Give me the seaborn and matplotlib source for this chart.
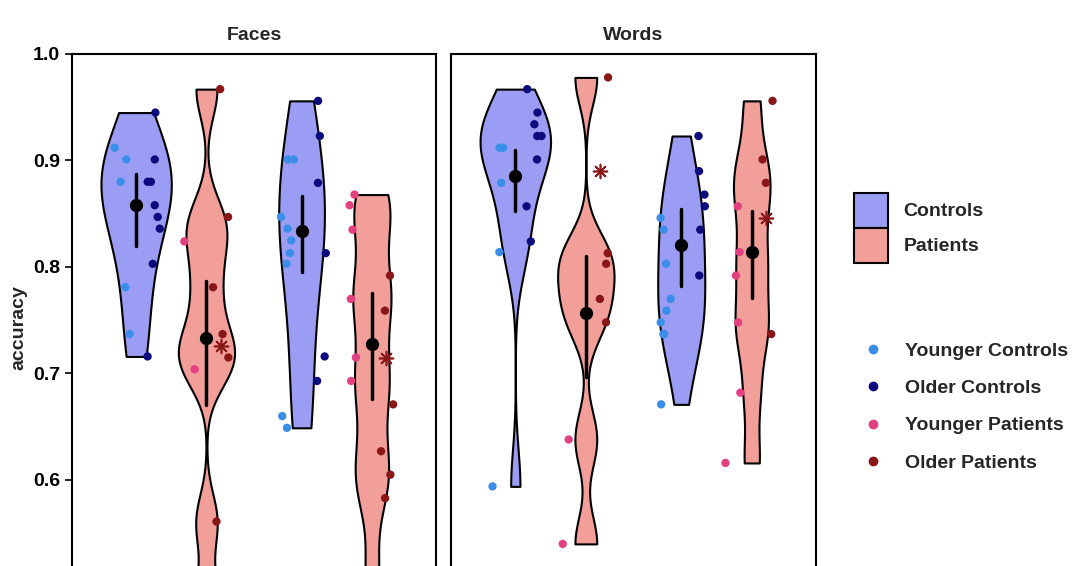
import numpy as np
import pandas as pd
import seaborn as sns
import matplotlib.pyplot as plt
from matplotlib.patches import Patch
from matplotlib.lines import Line2D
from matplotlib.ticker import FormatStrFormatter

# Categories
panels = ["Faces", "Words"]
times = ["Time 1", "Time 2"]
groups = ["Controls", "Patients"]
subgroups = ["Younger Controls", "Older Controls", "Younger Patients", "Older Patients"]

# Accuracy per participant (Faces)
faces_t1_young_ctrl = [0.912, 0.901, 0.880, 0.781, 0.737]
faces_t1_old_ctrl = [0.945, 0.901, 0.880, 0.880, 0.858, 0.847, 0.836, 0.803, 0.716]
faces_t1_young_pat = [0.824, 0.704, 0.490]
faces_t1_old_pat = [0.967, 0.847, 0.781, 0.737, 0.715, 0.561]

faces_t2_young_ctrl = [0.901, 0.901, 0.847, 0.836, 0.825, 0.813, 0.803, 0.660, 0.649]
faces_t2_old_ctrl = [0.956, 0.923, 0.879, 0.813, 0.716, 0.693]
faces_t2_young_pat = [0.868, 0.858, 0.835, 0.770, 0.715, 0.693, 0.511]
faces_t2_old_pat = [0.792, 0.759, 0.671, 0.627, 0.605, 0.583]

# Accuracy per participant (Words)
words_t1_young_ctrl = [0.912, 0.912, 0.879, 0.814, 0.594]
words_t1_old_ctrl = [0.967, 0.945, 0.934, 0.923, 0.923, 0.901, 0.857, 0.824]
words_t1_young_pat = [0.638, 0.540]
words_t1_old_pat = [0.978, 0.813, 0.803, 0.770, 0.748]

words_t2_young_ctrl = [0.846, 0.835, 0.803, 0.770, 0.759, 0.748, 0.737, 0.737, 0.737, 0.671]
words_t2_old_ctrl = [0.923, 0.890, 0.868, 0.857, 0.835, 0.792]
words_t2_young_pat = [0.857, 0.814, 0.792, 0.748, 0.682, 0.616]
words_t2_old_pat = [0.956, 0.901, 0.879, 0.737]

# Group mean and interval: Controls T1, Patients T1, Controls T2, Patients T2
faces_mean = [0.858, 0.733, 0.834, 0.728]
faces_lo = [0.820, 0.670, 0.795, 0.676]
faces_hi = [0.887, 0.787, 0.867, 0.776]
words_mean = [0.885, 0.757, 0.821, 0.814]
words_lo = [0.853, 0.697, 0.782, 0.771]
words_hi = [0.910, 0.810, 0.854, 0.853]

# Single highlighted patient (asterisk), T1 and T2
faces_star = [0.726, 0.715]
words_star = [0.890, 0.846]

fill_colors = {"Controls": "#9b9cf3", "Patients": "#f29e99"}
point_colors = {"Younger Controls": "#3a8ee8", "Older Controls": "#0b0b7e",
                "Younger Patients": "#e2407f", "Older Patients": "#8a1717"}


def nrd0(kde):
    # R's default bandwidth rule, returned as a factor of the sample sd
    x = kde.dataset[0]
    sd = np.std(x, ddof=1)
    q75, q25 = np.percentile(x, [75, 25])
    bw = 0.9 * min(sd, (q75 - q25) / 1.34) * len(x) ** (-0.2)
    return bw / sd


# Long tables
raw = {
    ("Faces", "Time 1"): [faces_t1_young_ctrl, faces_t1_old_ctrl, faces_t1_young_pat, faces_t1_old_pat],
    ("Faces", "Time 2"): [faces_t2_young_ctrl, faces_t2_old_ctrl, faces_t2_young_pat, faces_t2_old_pat],
    ("Words", "Time 1"): [words_t1_young_ctrl, words_t1_old_ctrl, words_t1_young_pat, words_t1_old_pat],
    ("Words", "Time 2"): [words_t2_young_ctrl, words_t2_old_ctrl, words_t2_young_pat, words_t2_old_pat],
}
rows = []
for (panel, time), lists in raw.items():
    for sub, vals in zip(subgroups, lists):
        for v in vals:
            rows.append({"panel": panel, "time": time, "subgroup": sub,
                         "group": sub.split()[1], "accuracy": v})
df = pd.DataFrame(rows)

cells = [(t, g) for t in times for g in groups]
summ_rows = []
for panel, m, lo, hi in [("Faces", faces_mean, faces_lo, faces_hi),
                         ("Words", words_mean, words_lo, words_hi)]:
    for i, (time, group) in enumerate(cells):
        for v in (lo[i], m[i], hi[i]):
            summ_rows.append({"panel": panel, "time": time, "group": group, "accuracy": v})
summ = pd.DataFrame(summ_rows)

star_rows = []
for panel, vals in [("Faces", faces_star), ("Words", words_star)]:
    for time, v in zip(times, vals):
        star_rows.append({"panel": panel, "time": time, "subgroup": "Older Patients", "accuracy": v})
stars = pd.DataFrame(star_rows)

# Plot
sns.set_style("white")
plt.rcParams["font.family"] = ["Liberation Sans", "DejaVu Sans"]
plt.rcParams["font.weight"] = "bold"
plt.rcParams["axes.labelweight"] = "bold"
np.random.seed(7)

fig = plt.figure(figsize=(10.8, 5.66), dpi=100)
ax_faces = fig.add_axes([0.0667, -0.0362, 0.337, 0.9408])
ax_words = fig.add_axes([0.4176, -0.0362, 0.338, 0.9408])

# violin settings per group: bandwidth adjust, gap
violin_opts = {"Controls": (1.3, 0.0), "Patients": (0.5, 0.2)}

for ax, panel in zip([ax_faces, ax_words], panels):
    d = df[df["panel"] == panel]
    for g in groups:
        adj, gap = violin_opts[g]
        sns.violinplot(data=d[d["group"] == g], x="time", y="accuracy", hue="group",
                       order=times, hue_order=groups, palette=fill_colors, saturation=1, cut=0,
                       density_norm="area", common_norm=True, bw_method=nrd0, bw_adjust=adj,
                       inner=None, width=0.85, gap=gap, dodge=True, linewidth=1.5,
                       linecolor="black", legend=False, ax=ax)
    sns.stripplot(data=d, x="time", y="accuracy", hue="subgroup", order=times, hue_order=subgroups,
                  palette=point_colors, dodge=True, jitter=0.2, size=6, linewidth=0,
                  legend=False, ax=ax)
    sns.stripplot(data=stars[stars["panel"] == panel], x="time", y="accuracy", hue="subgroup",
                  order=times, hue_order=subgroups, palette=point_colors, dodge=True, jitter=False,
                  marker=(8, 2, 0), size=10, linewidth=1.2, edgecolor=point_colors["Older Patients"],
                  legend=False, ax=ax)
    sns.pointplot(data=summ[summ["panel"] == panel], x="time", y="accuracy", hue="group",
                  order=times, hue_order=groups, palette={"Controls": "black", "Patients": "black"},
                  estimator="median", errorbar=("pi", 100), dodge=0.425, linestyle="none",
                  markers="o", markersize=7.5, err_kws={"linewidth": 2.5}, legend=False, ax=ax)

    ax.set_title(panel, fontsize=14, fontweight="bold", pad=10)
    ax.set_ylim(0.5, 1.0)
    ax.set_xlim(-0.6, 1.6)
    ax.set_yticks([0.6, 0.7, 0.8, 0.9, 1.0])
    ax.yaxis.set_major_formatter(FormatStrFormatter("%.1f"))
    ax.set_xlabel("")
    for sp in ax.spines.values():
        sp.set_visible(True)
        sp.set_color("black")
        sp.set_linewidth(1.5)
    ax.tick_params(axis="both", labelsize=14, length=5, width=1.2, color="black",
                   labelcolor="black", left=True, bottom=True, labelbottom=False)

ax_faces.set_ylabel("accuracy", fontsize=14, fontweight="bold")
ax_faces.yaxis.set_label_coords(-0.124, 0.4855)
ax_words.set_ylabel("")
ax_words.tick_params(axis="y", left=False, labelleft=False)

# Legends
box_handles = [Patch(facecolor=fill_colors[g], edgecolor="black", linewidth=1.5) for g in groups]
fig.legend(box_handles, groups, loc="upper left", bbox_to_anchor=(0.791, 0.659), frameon=False,
           prop={"size": 14, "weight": "bold"}, handlelength=1.75, handleheight=2.39,
           labelspacing=0, handletextpad=0.77, borderpad=0, borderaxespad=0)

dot_handles = [Line2D([], [], linestyle="none", marker="o", markersize=6, color=point_colors[s])
               for s in subgroups]
fig.legend(dot_handles, subgroups, loc="upper left", bbox_to_anchor=(0.7993, 0.3958), frameon=False,
           prop={"size": 14, "weight": "bold"}, handlelength=1.0, handletextpad=1.15,
           labelspacing=1.02, borderpad=0, borderaxespad=0)

fig.savefig("out.png", dpi=100)
